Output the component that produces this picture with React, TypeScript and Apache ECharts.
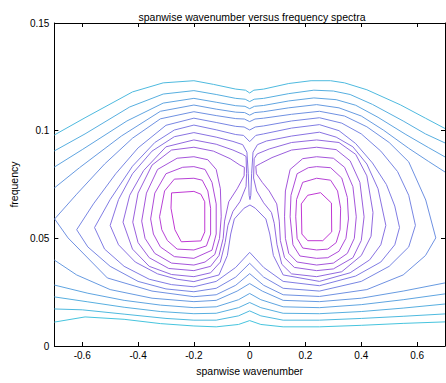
import { useEffect, useRef } from "react";
import * as echarts from "echarts";

// ---------------- data ----------------
const chartTitle = "spanwise wavenumber versus frequency spectra";
const xAxisName = "spanwise wavenumber";
const yAxisName = "frequency";
const xMin = -0.7;
const xMax = 0.7;
const yMin = 0;
const yMax = 0.15;
const yTickStep = 0.05;
const levelCount = 15;

// outer levels: open branches crossing the plot
const L0_bottom = [[-0.70,0.0111],[-0.59,0.0135],[-0.45,0.0124],[-0.32,0.0104],[-0.20,0.0093],[-0.12,0.0089],[-0.04,0.0100],[0,0.0118],[0.04,0.0100],[0.12,0.0089],[0.25,0.0089],[0.40,0.0096],[0.55,0.0105],[0.70,0.0112]];
const L1_top = [[-0.70,0.0980],[-0.59,0.1060],[-0.42,0.1180],[-0.31,0.1222],[-0.20,0.1232],[-0.13,0.1215],[-0.05,0.1193],[-0.015,0.1188],[0,0.1175],[0.015,0.1188],[0.05,0.1193],[0.14,0.1219],[0.22,0.1232],[0.29,0.1232],[0.34,0.1222],[0.42,0.1190],[0.54,0.1120],[0.63,0.1058],[0.70,0.1010]];
const L1_bottom = [[-0.70,0.0172],[-0.60,0.0168],[-0.45,0.0148],[-0.30,0.0128],[-0.20,0.0120],[-0.12,0.0120],[-0.04,0.0140],[0,0.0163],[0.04,0.0140],[0.12,0.0120],[0.25,0.0120],[0.40,0.0128],[0.55,0.0138],[0.70,0.0149]];
const L2_top = [[-0.70,0.0906],[-0.59,0.0985],[-0.43,0.1110],[-0.31,0.1170],[-0.20,0.1186],[-0.12,0.1168],[-0.05,0.1150],[-0.016,0.1146],[0,0.1135],[0.016,0.1146],[0.05,0.1150],[0.14,0.1172],[0.23,0.1188],[0.30,0.1184],[0.36,0.1168],[0.44,0.1122],[0.55,0.1045],[0.63,0.0985],[0.70,0.0943]];
const L2_bottom = [[-0.70,0.0228],[-0.58,0.0205],[-0.45,0.0180],[-0.32,0.0160],[-0.20,0.0150],[-0.12,0.0152],[-0.04,0.0178],[0,0.0202],[0.04,0.0178],[0.12,0.0152],[0.25,0.0150],[0.40,0.0160],[0.55,0.0176],[0.70,0.0195]];
const L3_top = [[-0.70,0.0831],[-0.60,0.0912],[-0.44,0.1045],[-0.31,0.1128],[-0.20,0.1150],[-0.12,0.1132],[-0.05,0.1116],[-0.017,0.1113],[0,0.1102],[0.017,0.1113],[0.05,0.1117],[0.14,0.1138],[0.23,0.1152],[0.31,0.1144],[0.38,0.1118],[0.46,0.1062],[0.56,0.0982],[0.64,0.0922],[0.70,0.0878]];
const L3_bottom = [[-0.70,0.0283],[-0.58,0.0245],[-0.45,0.0212],[-0.32,0.0190],[-0.20,0.0178],[-0.12,0.0182],[-0.04,0.0215],[0,0.0244],[0.04,0.0215],[0.12,0.0182],[0.25,0.0178],[0.40,0.0192],[0.55,0.0215],[0.70,0.0242]];
const L4_top = [[-0.70,0.0734],[-0.61,0.0828],[-0.46,0.0975],[-0.32,0.1090],[-0.20,0.1119],[-0.12,0.1100],[-0.05,0.1086],[-0.018,0.1084],[0,0.1072],[0.018,0.1084],[0.05,0.1088],[0.14,0.1106],[0.24,0.1121],[0.32,0.1106],[0.40,0.1068],[0.48,0.1002],[0.57,0.0918],[0.64,0.0858],[0.70,0.0808]];
const L4_bottom = [[-0.70,0.0399],[-0.62,0.0330],[-0.50,0.0262],[-0.35,0.0222],[-0.20,0.0206],[-0.12,0.0212],[-0.045,0.0255],[0,0.0290],[0.045,0.0255],[0.12,0.0212],[0.25,0.0206],[0.40,0.0222],[0.55,0.0255],[0.70,0.0293]];

// middle levels: closed curves around both lobes
const L5_loop = [[-0.699,0.0590],[-0.62,0.0705],[-0.52,0.0845],[-0.42,0.0965],[-0.32,0.1055],[-0.20,0.1088],[-0.12,0.1070],[-0.05,0.1056],[-0.019,0.1054],[0,0.1042],[0.019,0.1054],[0.05,0.1058],[0.15,0.1076],[0.25,0.1090],[0.34,0.1068],[0.42,0.1018],[0.50,0.0945],[0.57,0.0855],[0.631,0.0678],[0.667,0.0502],[0.63,0.0420],[0.55,0.0330],[0.42,0.0262],[0.25,0.0230],[0.12,0.0238],[0.05,0.0282],[0,0.0336],[-0.05,0.0282],[-0.12,0.0238],[-0.20,0.0229],[-0.35,0.0255],[-0.51,0.0316],[-0.651,0.0502],[-0.699,0.0590]];
const L6_loop = [[-0.62,0.0540],[-0.56,0.0660],[-0.48,0.0800],[-0.40,0.0920],[-0.30,0.1025],[-0.20,0.1058],[-0.12,0.1038],[-0.05,0.1020],[-0.02,0.1017],[0,0.1003],[0.02,0.1017],[0.05,0.1022],[0.15,0.1045],[0.25,0.1060],[0.33,0.1035],[0.40,0.0985],[0.47,0.0905],[0.53,0.0810],[0.57,0.0700],[0.594,0.0560],[0.57,0.0460],[0.50,0.0370],[0.40,0.0300],[0.25,0.0255],[0.12,0.0268],[0.05,0.0320],[0,0.0384],[-0.05,0.0320],[-0.12,0.0268],[-0.20,0.0252],[-0.30,0.0265],[-0.40,0.0300],[-0.50,0.0370],[-0.58,0.0460],[-0.62,0.0540]];
const L7_loop = [[-0.556,0.0550],[-0.50,0.0680],[-0.42,0.0835],[-0.34,0.0945],[-0.27,0.1003],[-0.20,0.1026],[-0.12,0.1004],[-0.05,0.0982],[-0.022,0.0978],[0,0.0949],[0.022,0.0978],[0.05,0.0985],[0.15,0.1012],[0.25,0.1028],[0.32,0.1000],[0.38,0.0940],[0.44,0.0850],[0.49,0.0750],[0.52,0.0650],[0.537,0.0550],[0.52,0.0470],[0.47,0.0390],[0.38,0.0325],[0.25,0.0280],[0.12,0.0300],[0.05,0.0365],[0,0.0435],[-0.05,0.0365],[-0.12,0.0300],[-0.20,0.0275],[-0.28,0.0285],[-0.36,0.0310],[-0.45,0.0370],[-0.52,0.0450],[-0.556,0.0550]];
const L8_loop = [[-0.50,0.0560],[-0.47,0.0680],[-0.42,0.0800],[-0.35,0.0905],[-0.27,0.0972],[-0.20,0.0991],[-0.12,0.0970],[-0.06,0.0950],[-0.025,0.0935],[-0.010,0.0900],[-0.005,0.0800],[-0.002,0.0700],[0.001,0.0680],[0.004,0.0700],[0.007,0.0800],[0.012,0.0900],[0.028,0.0935],[0.06,0.0952],[0.15,0.0975],[0.25,0.0993],[0.31,0.0970],[0.37,0.0925],[0.42,0.0845],[0.46,0.0730],[0.488,0.0560],[0.47,0.0470],[0.43,0.0400],[0.36,0.0340],[0.25,0.0300],[0.12,0.0330],[0.085,0.0420],[0.072,0.0520],[0.058,0.0590],[0.02,0.0640],[0.001,0.0655],[-0.02,0.0640],[-0.055,0.0590],[-0.068,0.0520],[-0.08,0.0420],[-0.11,0.0330],[-0.20,0.0299],[-0.26,0.0310],[-0.33,0.0335],[-0.41,0.0390],[-0.47,0.0470],[-0.50,0.0560]];

// inner levels: separate loops around the left and right lobes
const L9_left = [[-0.454,0.0575],[-0.43,0.0700],[-0.38,0.0815],[-0.30,0.0925],[-0.20,0.0957],[-0.12,0.0937],[-0.06,0.0910],[-0.025,0.0890],[-0.013,0.0880],[-0.011,0.0800],[-0.013,0.0740],[-0.035,0.0670],[-0.060,0.0625],[-0.078,0.0560],[-0.088,0.0480],[-0.105,0.0390],[-0.14,0.0340],[-0.20,0.0322],[-0.28,0.0332],[-0.36,0.0370],[-0.42,0.0450],[-0.454,0.0575]];
const L9_right = [[0.088,0.0570],[0.078,0.0620],[0.05,0.0665],[0.025,0.0720],[0.014,0.0780],[0.016,0.0870],[0.027,0.0892],[0.07,0.0915],[0.15,0.0945],[0.24,0.0957],[0.32,0.0945],[0.38,0.0890],[0.42,0.0790],[0.442,0.0620],[0.435,0.0510],[0.40,0.0420],[0.33,0.0345],[0.24,0.0322],[0.15,0.0335],[0.115,0.0380],[0.098,0.0470],[0.088,0.0570]];
const L10_left = [[-0.419,0.0575],[-0.40,0.0710],[-0.35,0.0840],[-0.28,0.0910],[-0.20,0.0923],[-0.13,0.0905],[-0.07,0.0870],[-0.035,0.0840],[-0.019,0.0830],[-0.020,0.0790],[-0.045,0.0730],[-0.075,0.0670],[-0.090,0.0580],[-0.095,0.0500],[-0.11,0.0420],[-0.14,0.0370],[-0.20,0.0350],[-0.29,0.0360],[-0.36,0.0410],[-0.40,0.0480],[-0.419,0.0575]];
const L10_right = [[0.106,0.0580],[0.097,0.0660],[0.07,0.0720],[0.045,0.0760],[0.024,0.0800],[0.022,0.0835],[0.04,0.0848],[0.08,0.0875],[0.15,0.0910],[0.24,0.0923],[0.31,0.0912],[0.36,0.0860],[0.395,0.0760],[0.410,0.0600],[0.40,0.0490],[0.37,0.0410],[0.30,0.0358],[0.24,0.0350],[0.16,0.0365],[0.125,0.0410],[0.110,0.0490],[0.106,0.0580]];
const L11_left = [[-0.387,0.0580],[-0.37,0.0710],[-0.33,0.0820],[-0.26,0.0872],[-0.20,0.0879],[-0.15,0.0865],[-0.12,0.0820],[-0.105,0.0730],[-0.102,0.0600],[-0.108,0.0500],[-0.125,0.0425],[-0.16,0.0390],[-0.20,0.0376],[-0.28,0.0385],[-0.34,0.0430],[-0.375,0.0500],[-0.387,0.0580]];
const L11_right = [[0.125,0.0600],[0.128,0.0720],[0.145,0.0820],[0.19,0.0870],[0.24,0.0879],[0.30,0.0872],[0.34,0.0830],[0.37,0.0740],[0.382,0.0600],[0.375,0.0500],[0.35,0.0430],[0.30,0.0385],[0.24,0.0376],[0.17,0.0390],[0.14,0.0430],[0.128,0.0500],[0.125,0.0600]];
const L12_left = [[-0.355,0.0590],[-0.34,0.0710],[-0.30,0.0800],[-0.24,0.0830],[-0.20,0.0833],[-0.16,0.0820],[-0.135,0.0760],[-0.12,0.0660],[-0.12,0.0520],[-0.135,0.0445],[-0.20,0.0407],[-0.27,0.0415],[-0.32,0.0460],[-0.345,0.0520],[-0.355,0.0590]];
const L12_right = [[0.145,0.0600],[0.148,0.0700],[0.17,0.0800],[0.21,0.0828],[0.24,0.0833],[0.29,0.0828],[0.33,0.0780],[0.35,0.0690],[0.354,0.0590],[0.345,0.0500],[0.32,0.0440],[0.28,0.0410],[0.24,0.0407],[0.18,0.0418],[0.155,0.0470],[0.145,0.0600]];
const L13_left = [[-0.323,0.0600],[-0.305,0.0720],[-0.27,0.0775],[-0.20,0.0779],[-0.17,0.0770],[-0.15,0.0720],[-0.140,0.0640],[-0.140,0.0520],[-0.155,0.0465],[-0.20,0.0446],[-0.26,0.0450],[-0.295,0.0490],[-0.315,0.0540],[-0.323,0.0600]];
const L13_right = [[0.165,0.0600],[0.168,0.0680],[0.19,0.0760],[0.24,0.0779],[0.29,0.0770],[0.315,0.0720],[0.326,0.0640],[0.324,0.0540],[0.31,0.0480],[0.28,0.0450],[0.24,0.0446],[0.19,0.0455],[0.17,0.0500],[0.165,0.0600]];
const L14_left = [[-0.280,0.0711],[-0.20,0.0718],[-0.175,0.0705],[-0.161,0.0670],[-0.161,0.0530],[-0.175,0.0488],[-0.245,0.0484],[-0.268,0.0540],[-0.282,0.0640],[-0.280,0.0711]];
const L14_right = [[0.208,0.0700],[0.254,0.0712],[0.293,0.0664],[0.294,0.0530],[0.262,0.0489],[0.208,0.0489],[0.187,0.0520],[0.185,0.0660],[0.208,0.0700]];

const contours: { level: number; points: number[][] }[] = [
  { level: 0, points: L0_bottom },
  { level: 1, points: L1_top },
  { level: 1, points: L1_bottom },
  { level: 2, points: L2_top },
  { level: 2, points: L2_bottom },
  { level: 3, points: L3_top },
  { level: 3, points: L3_bottom },
  { level: 4, points: L4_top },
  { level: 4, points: L4_bottom },
  { level: 5, points: L5_loop },
  { level: 6, points: L6_loop },
  { level: 7, points: L7_loop },
  { level: 8, points: L8_loop },
  { level: 9, points: L9_left },
  { level: 9, points: L9_right },
  { level: 10, points: L10_left },
  { level: 10, points: L10_right },
  { level: 11, points: L11_left },
  { level: 11, points: L11_right },
  { level: 12, points: L12_left },
  { level: 12, points: L12_right },
  { level: 13, points: L13_left },
  { level: 13, points: L13_right },
  { level: 14, points: L14_left },
  { level: 14, points: L14_right },
];

// ---------------- styling ----------------
const FONT = "'Liberation Sans', Arial, Helvetica, sans-serif";
const COLOR_STOPS = [
  [70, 196, 222],
  [128, 124, 228],
  [192, 56, 212],
];
function levelColor(level: number): string {
  const t = level / (levelCount - 1);
  const seg = t < 0.5 ? 0 : 1;
  const lt = t < 0.5 ? t / 0.5 : (t - 0.5) / 0.5;
  const a = COLOR_STOPS[seg];
  const b = COLOR_STOPS[seg + 1];
  const c = a.map((v, i) => Math.round(v + (b[i] - v) * lt));
  return `rgb(${c[0]},${c[1]},${c[2]})`;
}

const axisCommon = {
  axisLine: { show: true, onZero: false, lineStyle: { color: "#000", width: 1 } },
  axisTick: { show: true, inside: true, length: 4, lineStyle: { color: "#000", width: 1 } },
  splitLine: { show: false },
};

export default function App() {
  const ref = useRef<HTMLDivElement>(null);
  useEffect(() => {
    if (!ref.current) return;
    const chart = echarts.init(ref.current, undefined, { renderer: "svg" });
    chart.setOption({
      animation: false,
      backgroundColor: "#fff",
      title: {
        text: chartTitle,
        left: 247,
        top: 6,
        textAlign: "center",
        textStyle: { fontSize: 10.5, fontWeight: "normal", color: "#000", fontFamily: FONT },
      },
      grid: { left: 49, right: 1, top: 23, bottom: 37, containLabel: false },
      xAxis: [
        {
          type: "value",
          min: xMin,
          max: xMax,
          splitNumber: 7,
          position: "bottom",
          ...axisCommon,
          axisLabel: {
            color: "#000",
            fontSize: 10,
            fontFamily: FONT,
            margin: 4,
            showMinLabel: false,
            showMaxLabel: false,
          },
          name: xAxisName,
          nameLocation: "middle",
          nameGap: 19,
          nameTextStyle: { color: "#000", fontSize: 10.5, fontFamily: FONT },
        },
        {
          type: "value",
          min: xMin,
          max: xMax,
          splitNumber: 7,
          position: "top",
          ...axisCommon,
          axisLabel: { show: false },
        },
      ],
      yAxis: [
        {
          type: "value",
          min: yMin,
          max: yMax,
          interval: yTickStep,
          position: "left",
          ...axisCommon,
          axisLabel: { color: "#000", fontSize: 10, fontFamily: FONT, margin: 5 },
          name: yAxisName,
          nameLocation: "middle",
          nameGap: 29,
          nameRotate: 90,
          nameTextStyle: { color: "#000", fontSize: 10.5, fontFamily: FONT },
        },
        {
          type: "value",
          min: yMin,
          max: yMax,
          interval: yTickStep,
          position: "right",
          ...axisCommon,
          axisLabel: { show: false },
        },
      ],
      series: contours.map((c) => ({
        type: "line",
        data: c.points,
        xAxisIndex: 0,
        yAxisIndex: 0,
        showSymbol: false,
        symbol: "none",
        silent: true,
        clip: true,
        lineStyle: { width: 1, color: levelColor(c.level) },
        emphasis: { disabled: true },
      })),
    });
    return () => chart.dispose();
  }, []);
  return (
    <div
      ref={ref}
      style={{ position: "absolute", left: 0, top: 0, width: 446, height: 383, background: "#fff" }}
    />
  );
}
